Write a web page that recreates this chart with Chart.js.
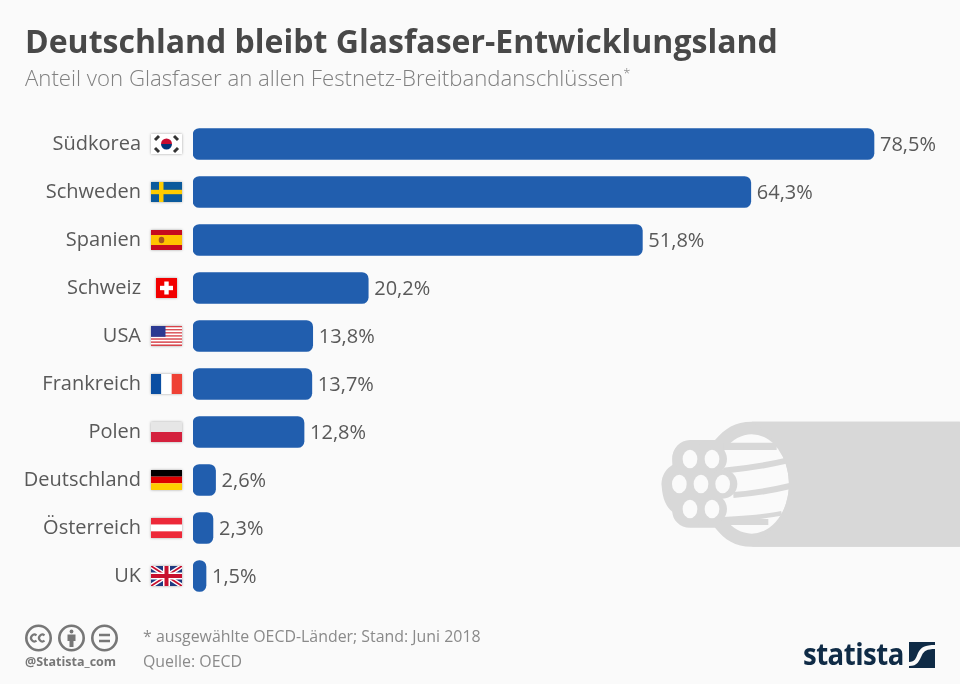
<!DOCTYPE html>
<html lang="de">
<head>
<meta charset="utf-8">
<title>Deutschland bleibt Glasfaser-Entwicklungsland</title>
<script src="https://cdn.jsdelivr.net/npm/chart.js@4"></script>
<style>
  html, body { margin: 0; padding: 0; background: #fafafa; }
  #page { position: relative; width: 960px; height: 684px; overflow: hidden; font-family: "Open Sans", sans-serif; }
  #page > * { position: absolute; }
  #BarBox { left: 0; top: 0; }
  #title { left: 25px; top: 19px; margin: 0; font-size: 32px; line-height: 44px; font-weight: 700; color: #484848; white-space: nowrap; }
  #subtitle { left: 25px; top: 64px; font-size: 22.2px; line-height: 28px; font-weight: 300; color: #808080; white-space: nowrap; }
  #subtitle sup { font-size: 13px; line-height: 0; }
  .note { left: 143px; font-size: 15.9px; line-height: 22px; color: #8a8a8a; white-space: nowrap; }
  #handle { left: 25px; top: 653px; font-size: 12.5px; line-height: 18px; font-weight: 700; color: #777; white-space: nowrap; }
  #brand { left: 803px; top: 632px; font-size: 31px; line-height: 42px; font-weight: 700; color: #0f2b46; letter-spacing: -0.6px; white-space: nowrap; transform: scaleX(0.89); transform-origin: left center; }
</style>
</head>
<body>
<div id="page">
  <!-- fibre cable behind the chart, coordinates follow the 3x crop -->
  <svg width="960" height="684" style="left:0;top:0">
    <g transform="translate(640,400) scale(0.3333)">
      <path d="M335 65 H960 V440 H335 C285 440 255 420 225 383 H150 C120 383 97 360 97 335 C75 320 65 285 65 250 C65 225 80 205 97 195 V175 C97 145 120 120 150 120 H225 C255 85 285 65 335 65 Z" fill="#d8d8d8"/>
      <ellipse cx="335" cy="252" rx="112" ry="149" fill="#fafafa"/>
      <g stroke="#d8d8d8" fill="none">
        <path d="M250 139 H410" stroke-width="22"/>
        <path d="M250 212 C320 206 380 196 440 182" stroke-width="18"/>
        <path d="M280 285 C340 281 400 270 450 258" stroke-width="18"/>
        <path d="M250 358 C320 354 380 350 425 340" stroke-width="14"/>
        <path d="M260 366 H385" stroke-width="18"/>
      </g>
      <g fill="#d8d8d8">
        <circle cx="150" cy="177" r="53"/><circle cx="216" cy="177" r="45"/>
        <circle cx="118" cy="252" r="53"/><circle cx="183" cy="252" r="53"/><circle cx="248" cy="252" r="44"/>
        <circle cx="150" cy="327" r="53"/><circle cx="216" cy="327" r="45"/>
      </g>
      <g fill="#fafafa">
        <ellipse cx="150" cy="177" rx="22" ry="28"/><ellipse cx="216" cy="177" rx="22" ry="28"/>
        <ellipse cx="118" cy="252" rx="22" ry="28"/><ellipse cx="183" cy="252" rx="22" ry="28"/><ellipse cx="248" cy="252" rx="22" ry="28"/>
        <ellipse cx="150" cy="327" rx="22" ry="28"/><ellipse cx="216" cy="327" rx="22" ry="28"/>
      </g>
      <path d="M335 65 H960 V440 H335 C400 400 447 330 447 252 C447 175 400 105 335 65 Z" fill="#d8d8d8"/>
    </g>
  </svg>

  <canvas id="BarBox" width="960" height="684"></canvas>

  <h1 id="title">Deutschland bleibt Glasfaser-Entwicklungsland</h1>
  <div id="subtitle">Anteil von Glasfaser an allen Festnetz-Breitbandanschlüssen<sup>*</sup></div>
  <div class="note" style="top:625px">* ausgewählte OECD-Länder; Stand: Juni 2018</div>
  <div class="note" style="top:650px">Quelle: OECD</div>
  <div id="handle">@Statista_com</div>

  <!-- cc icons -->
  <svg width="120" height="34" style="left:20px;top:621px" fill="none" stroke="#777" stroke-width="2.6">
    <circle cx="18.5" cy="17" r="12.2"/>
    <path d="M16.5 14.3 a3.4 3.4 0 1 0 0 5.4 M24.5 14.3 a3.4 3.4 0 1 0 0 5.4" stroke-width="2.2"/>
    <circle cx="51.5" cy="17" r="12.2"/>
    <circle cx="51.5" cy="10.5" r="1.9" fill="#777" stroke="none"/>
    <path d="M47.5 13.5 H55.5 V20 H53.5 V26 H49.5 V20 H47.5 Z" fill="#777" stroke="none"/>
    <circle cx="84.5" cy="17" r="12.2"/>
    <path d="M79 14 H90 M79 20 H90" stroke-width="2.4"/>
  </svg>

  <div id="brand">statista</div>
  <svg width="26" height="26" style="left:909px;top:642px">
    <rect width="26" height="26" fill="#0f2b46"/>
    <path d="M0 24 C9 24 10 19 13 13 C15 9 18 7 26 7 V3 C16 3 12 5 9 11 C7 16 6 20 0 20 Z" fill="#fafafa"/>
  </svg>
</div>

<script>
    const categories = ['Südkorea', 'Schweden', 'Spanien', 'Schweiz', 'USA', 'Frankreich', 'Polen', 'Deutschland', 'Österreich', 'UK'];
    const shareValues = [78.5, 64.3, 51.8, 20.2, 13.8, 13.7, 12.8, 2.6, 2.3, 1.5];
    const flagCodes = ['kr', 'se', 'es', 'ch', 'us', 'fr', 'pl', 'de', 'at', 'gb'];

    function stripes(ctx, x, y, w, h, colors, vertical) {
        colors.forEach(function(c, i) {
            ctx.fillStyle = c;
            if (vertical) ctx.fillRect(x + w * i / colors.length, y, w / colors.length, h);
            else ctx.fillRect(x, y + h * i / colors.length, w, h / colors.length);
        });
    }

    function drawFlag(ctx, code, cx, cy) {
        const w = code === 'ch' ? 21 : 31;
        const h = 20;
        const x = cx - w / 2;
        const y = cy - h / 2;
        ctx.save();
        ctx.shadowColor = 'rgba(0,0,0,0.35)';
        ctx.shadowBlur = 2.5;
        ctx.fillStyle = '#fff';
        ctx.fillRect(x, y, w, h);
        ctx.restore();
        ctx.save();
        ctx.beginPath();
        ctx.rect(x, y, w, h);
        ctx.clip();
        if (code === 'kr') {
            ctx.fillStyle = '#c60c30';
            ctx.beginPath(); ctx.arc(cx, cy, 5.5, Math.PI, 0); ctx.fill();
            ctx.fillStyle = '#003478';
            ctx.beginPath(); ctx.arc(cx, cy, 5.5, 0, Math.PI); ctx.fill();
            ctx.strokeStyle = '#333';
            ctx.lineWidth = 3;
            [[-9.5, -6, 1], [9.5, -6, -1], [-9.5, 6, -1], [9.5, 6, 1]].forEach(function(t) {
                ctx.beginPath();
                ctx.moveTo(cx + t[0] - 2, cy + t[1] + 2 * t[2]);
                ctx.lineTo(cx + t[0] + 2, cy + t[1] - 2 * t[2]);
                ctx.stroke();
            });
        } else if (code === 'se') {
            ctx.fillStyle = '#0b5a9c'; ctx.fillRect(x, y, w, h);
            ctx.fillStyle = '#fecc00';
            ctx.fillRect(x + 8, y, 4.5, h);
            ctx.fillRect(x, cy - 2.2, w, 4.4);
        } else if (code === 'es') {
            stripes(ctx, x, y, w, h, ['#c60b1e', '#ffc400', '#ffc400', '#c60b1e']);
            ctx.fillStyle = '#a8551e';
            ctx.beginPath(); ctx.ellipse(x + 10.5, cy, 2.8, 3.2, 0, 0, Math.PI * 2); ctx.fill();
        } else if (code === 'ch') {
            ctx.fillStyle = '#f20000'; ctx.fillRect(x, y, w, h);
            ctx.fillStyle = '#fff';
            ctx.fillRect(cx - 6.5, cy - 2.2, 13, 4.4);
            ctx.fillRect(cx - 2.2, cy - 6.5, 4.4, 13);
        } else if (code === 'us') {
            stripes(ctx, x, y, w, h, ['#d8434a', '#fff', '#d8434a', '#fff', '#d8434a', '#fff', '#d8434a', '#fff', '#d8434a', '#fff', '#d8434a', '#fff', '#d8434a']);
            ctx.fillStyle = '#2c3a92'; ctx.fillRect(x, y, 14.5, 10.8);
        } else if (code === 'fr') {
            stripes(ctx, x, y, w, h, ['#0a4ea2', '#fff', '#ef4135'], true);
        } else if (code === 'pl') {
            stripes(ctx, x, y, w, h, ['#e6e6e6', '#d4213d']);
        } else if (code === 'de') {
            stripes(ctx, x, y, w, h, ['#000', '#dd0000', '#ffce00']);
        } else if (code === 'at') {
            stripes(ctx, x, y, w, h, ['#ed2939', '#fff', '#ed2939']);
        } else if (code === 'gb') {
            ctx.fillStyle = '#1f3a80'; ctx.fillRect(x, y, w, h);
            [['#fff', 4.5], ['#c8102e', 1.8]].forEach(function(s) {
                ctx.strokeStyle = s[0];
                ctx.lineWidth = s[1];
                ctx.beginPath();
                ctx.moveTo(x, y); ctx.lineTo(x + w, y + h);
                ctx.moveTo(x + w, y); ctx.lineTo(x, y + h);
                ctx.stroke();
            });
            ctx.fillStyle = '#fff';
            ctx.fillRect(cx - 3.5, y, 7, h);
            ctx.fillRect(x, cy - 3.5, w, 7);
            ctx.fillStyle = '#c8102e';
            ctx.fillRect(cx - 2, y, 4, h);
            ctx.fillRect(x, cy - 2, w, 4);
        }
        ctx.restore();
    }

    // value labels right of the bars and flags between name and bar
    const barExtras = {
        id: 'barExtras',
        afterDatasetsDraw(chart) {
            const ctx = chart.ctx;
            const xScale = chart.scales.x;
            const yScale = chart.scales.y;
            ctx.save();
            ctx.font = '20px "Open Sans"';
            ctx.fillStyle = '#595959';
            ctx.textAlign = 'left';
            ctx.textBaseline = 'middle';
            shareValues.forEach(function(v, i) {
                const y = yScale.getPixelForValue(i);
                ctx.fillText(v.toFixed(1).replace('.', ',') + '%', xScale.getPixelForValue(v) + 6, y + 1);
                drawFlag(ctx, flagCodes[i], 166.5, y);
            });
            ctx.restore();
        }
    };

    const BarConfig = {
        type: 'bar',
        data: {
            labels: categories,
            datasets: [{
                data: shareValues,
                backgroundColor: '#215eae',
                borderRadius: 6.5,
                borderSkipped: false,
                barThickness: 31
            }]
        },
        options: {
            indexAxis: 'y',
            responsive: false,
            animation: false,
            layout: { padding: { top: 120, bottom: 84, right: 73, left: 0 } },
            scales: {
                x: { display: false, min: 0, max: 80 },
                y: {
                    afterFit(scale) { scale.width = 193; },
                    grid: { display: false },
                    border: { display: false },
                    ticks: {
                        padding: 44,
                        color: '#595959',
                        font: { family: '"Open Sans"', size: 20 }
                    }
                }
            },
            plugins: {
                legend: { display: false },
                tooltip: { enabled: false }
            }
        },
        plugins: [barExtras]
    };

    window.onload = function() {
        new Chart(document.getElementById('BarBox').getContext('2d'), BarConfig);
    };
</script>
</body>
</html>
